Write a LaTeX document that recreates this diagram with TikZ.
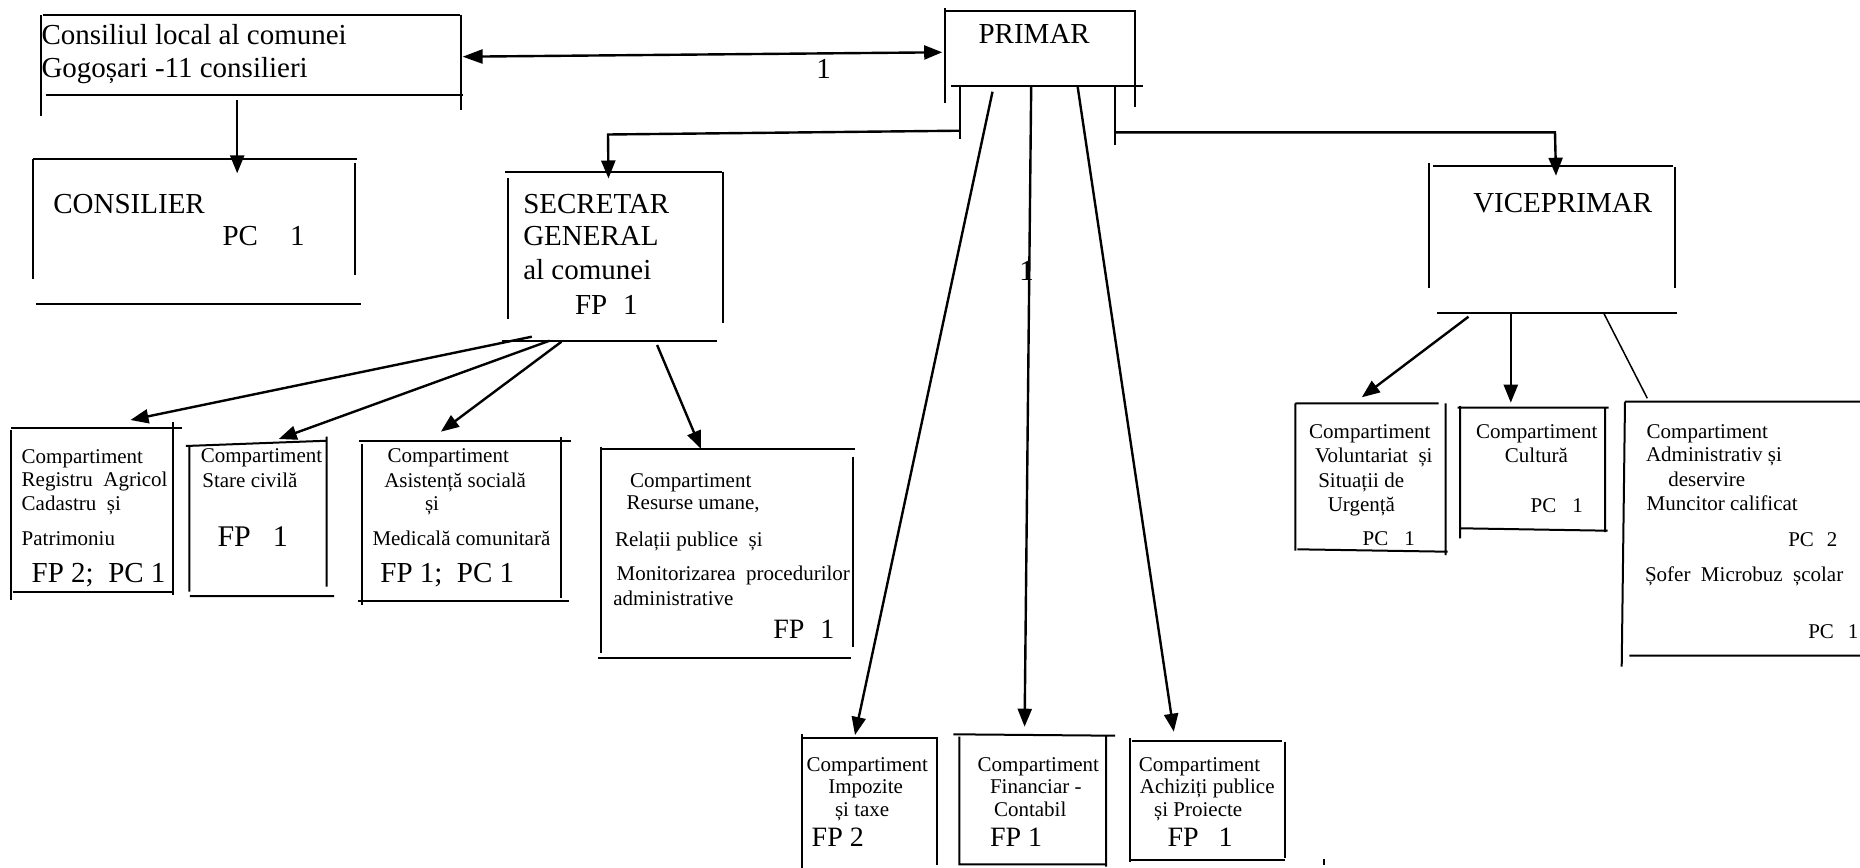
\documentclass[tikz,border=0pt]{standalone}
\usepackage{fontspec}
\setmainfont{Liberation Serif}
\usetikzlibrary{arrows.meta}
\begin{document}
\begin{tikzpicture}[x=0.5pt,y=-0.5pt,
  edge/.style={line width=1pt},
  conn/.style={line width=1.2pt},
  arr/.style={conn,-{Triangle[length=9pt,width=7pt]}},
  thinconn/.style={line width=0.75pt},
  big/.style={font=\fontsize{14.5}{17}\selectfont,inner sep=0pt,outer sep=0pt,anchor=base west},
  bigc/.style={font=\fontsize{14.5}{17}\selectfont,inner sep=0pt,outer sep=0pt,anchor=base},
  fpbig/.style={font=\fontsize{15}{18}\selectfont,inner sep=0pt,outer sep=0pt,anchor=base west},
  mid/.style={font=\fontsize{14}{17}\selectfont,inner sep=0pt,outer sep=0pt,anchor=base west},
  sm/.style={font=\fontsize{10.5}{12}\selectfont,inner sep=0pt,outer sep=0pt,anchor=base west}]
\path[use as bounding box] (0,0) rectangle (1860,868);

% ---------- box outlines (drawn as loose segments, as in the original) ----------
% Consiliul local
\draw[edge] (42.7,15)--(459.5,15) (40.7,15)--(40.7,116) (460.6,15)--(460.6,110) (45.5,95)--(462.6,95);
% CONSILIER
\draw[edge] (32.8,159.3)--(357,159.3) (32.8,159.3)--(32.8,279.3) (354.7,163.3)--(354.7,275.3) (35.6,304)--(361,304);
% PRIMAR
\draw[edge] (945,11)--(1136,11) (945,8.3)--(945,102.7) (1134.8,11)--(1134.8,106.7) (951.3,85.7)--(1142.7,85.7);
\draw[edge] (960,85.7)--(960,139.3) (1115.4,85.7)--(1115.4,145);
% SECRETAR GENERAL
\draw[edge] (505,171.7)--(721.7,171.7) (508.3,178.3)--(508.3,319.3) (723.3,171.7)--(723.3,323.3) (501.7,341)--(716.7,341);
% VICEPRIMAR
\draw[edge] (1433,165.7)--(1673,165.7) (1429,163.3)--(1429,288.3) (1675,166.7)--(1675,288.3) (1437,313.3)--(1677,313.3);
% Registru
\draw[edge] (11,427.7)--(181.7,427.7) (11,430)--(11,600) (172.7,421.7)--(172.7,595) (12.7,591.7)--(173.3,591.7);
% Stare civila
\draw[edge] (185.8,446)--(327.4,440.7) (189.3,445)--(189.3,591.7) (326.6,436.7)--(326.6,586.7) (189.8,596)--(334,596);
% Asistenta
\draw[edge] (359,440.7)--(570.6,440.7) (361.8,444)--(361.8,605) (560.7,436.7)--(560.7,598.3) (357.8,600.7)--(568.6,600.7);
% Resurse umane
\draw[edge] (601.7,449.3)--(855,449.3) (601,446.7)--(601,653.3) (853.3,456.7)--(853.3,646.7) (598.3,658.3)--(851,658.3);
% Impozite
\draw[edge] (801.7,738.3)--(938.3,738.3) (801.7,734.3)--(801.7,868) (936.7,738.3)--(936.7,865);
% Financiar
\draw[edge] (953.3,734.3)--(1115,735.7) (959.3,736.7)--(959.3,863.3) (1106,736.7)--(1106,866.7) (958.3,864.3)--(1105,864.3);
% Achizitii
\draw[edge] (1131.7,740.7)--(1281.6,740.7) (1130,738.3)--(1130,861.7) (1285.2,741.7)--(1285.2,858.3) (1130,860)--(1285,860);
\draw[edge] (1324,859)--(1324,865);
% Voluntariat
\draw[edge] (1295.4,403.3)--(1438.5,403.3) (1295.4,403.3)--(1295.4,550.7) (1445.6,403.3)--(1445.6,555) (1297.3,549.3)--(1447.6,551.7);
% Cultura
\draw[edge] (1457.5,407.7)--(1608.5,407.7) (1460.2,406)--(1460.2,538.3) (1605,407.7)--(1605,532) (1461.4,528.3)--(1607.7,530.7);
% Administrativ
\draw[edge] (1625,401.7)--(1860,401.7) (1625,401.7)--(1621.7,666.7) (1629.3,655.7)--(1860,655.7);

% ---------- texts ----------
\node[big] (cl1) at (41.5,44.3) {Consiliul local al comunei};
\node[big] (cl2) at (41.5,77.7) {Gogoșari -11 consilieri};
\node[big] (cs1) at (53.4,213) {CONSILIER};
\node[big] (cs2) at (222.6,245.7) {PC\hspace{16pt}1};
\node[big] (pr) at (978.6,43.3) {PRIMAR};
\node[bigc] (lab1) at (823.6,78.3) {1};
\node[bigc] (lab2) at (1026.5,280) {1};
\node[big] (sg1) at (523.3,213.3) {SECRETAR};
\node[big] (sg2) at (523.3,245) {GENERAL};
\node[big] (sg3) at (523.3,279.3) {al comunei};
\node[big] (sg4) at (575,314) {FP\hspace{8pt}1};
\node[big] (vp) at (1473.3,212.3) {VICEPRIMAR};

\node[sm] (rg1) at (21.7,463.3) {Compartiment};
\node[sm] (rg2) at (21.7,486.7) {Registru\ \ Agricol};
\node[sm] (rg3) at (21.7,510) {Cadastru\ \ și};
\node[sm] (rg4) at (21.7,545) {Patrimoniu};
\node[big] (rg5) at (31.7,582) {FP 2;\ \ PC 1};

\node[sm] (sc1) at (200.9,462.7) {Compartiment};
\node[sm] (sc2) at (202.4,487.3) {Stare civilă};
\node[fpbig] (sc3) at (217.5,546) {FP\hspace{11pt}1};

\node[sm] (as1) at (387.5,462.7) {Compartiment};
\node[sm] (as2) at (384.3,487.3) {Asistență socială};
\node[sm] (as3) at (425,510.7) {și};
\node[sm] (as4) at (372.5,545) {Medicală comunitară};
\node[big] (as5) at (380.4,582) {FP 1;\ \ PC 1};

\node[sm] (rs1) at (630,487.7) {Compartiment};
\node[sm] (rs2) at (626.7,509) {Resurse umane,};
\node[sm] (rs3) at (615,546) {Relații publice\ \ și};
\node[sm] (rs4) at (616.7,580) {Monitorizarea\ \ procedurilor};
\node[sm] (rs5) at (613.3,605) {administrative};
\node[mid] (rs6) at (773.3,638.3) {FP\hspace{8pt}1};

\node[sm] (im1) at (806.7,771.7) {Compartiment};
\node[sm] (im2) at (828.3,793.3) {Impozite};
\node[sm] (im3) at (835,816.7) {și taxe};
\node[mid] (im4) at (811.7,846.7) {FP 2};

\node[sm] (fi1) at (977.7,771.7) {Compartiment};
\node[sm] (fi2) at (990,793.3) {Financiar -};
\node[sm] (fi3) at (994,816.7) {Contabil};
\node[mid] (fi4) at (990,846.7) {FP 1};

\node[sm] (ac1) at (1138.8,771.7) {Compartiment};
\node[sm] (ac2) at (1139.9,793.3) {Achiziți publice};
\node[sm] (ac3) at (1154.2,816.7) {și Proiecte};
\node[mid] (ac4) at (1167.5,846.7) {FP\hspace{10pt}1};

\node[sm] (vo1) at (1309.2,438.3) {Compartiment};
\node[sm] (vo2) at (1315.1,462.7) {Voluntariat\ \ și};
\node[sm] (vo3) at (1318.3,487.3) {Situații de};
\node[sm] (vo4) at (1327.8,511.7) {Urgență};
\node[sm] (vo5) at (1362.6,545.7) {PC\hspace{8pt}1};

\node[sm] (cu1) at (1476,438.3) {Compartiment};
\node[sm] (cu2) at (1504.9,462.7) {Cultură};
\node[sm] (cu3) at (1530.6,512.7) {PC\hspace{8pt}1};

\node[sm] (ad1) at (1646.7,438.3) {Compartiment};
\node[sm] (ad2) at (1646,461.7) {Administrativ și};
\node[sm] (ad3) at (1668.3,486.7) {deservire};
\node[sm] (ad4) at (1646.7,510.7) {Muncitor calificat};
\node[sm] (ad5) at (1788.3,546.7) {PC\hspace{6.5pt}2};
\node[sm] (ad6) at (1645,581.7) {Șofer\ \ Microbuz\ \ școlar};
\node[sm] (ad7) at (1808.3,638.3) {PC\hspace{7pt}1};

% ---------- connector end points ----------
\coordinate (clR) at (462.6,56.7);
\coordinate (prL) at (942.2,52.3);
\coordinate (clB) at (237.2,100);
\coordinate (csT) at (237.2,173.3);
\coordinate (pL) at (960,130.7);
\coordinate (sgK) at (608,134.5);
\coordinate (sgT) at (608.5,178.5);
\coordinate (pR) at (1115.4,132.3);
\coordinate (vK) at (1555,132.3);
\coordinate (vT) at (1556,175.7);
\coordinate (p1) at (992.5,91.7);
\coordinate (imT) at (855,735);
\coordinate (p2) at (1031.2,85.7);
\coordinate (fiT) at (1024.6,726.7);
\coordinate (p3) at (1077.5,85.7);
\coordinate (acT) at (1173.8,731.7);
\coordinate (s1) at (531.8,336.7);
\coordinate (rgT) at (130.5,420);
\coordinate (s2) at (549.6,340.7);
\coordinate (scT) at (278.8,439);
\coordinate (s3) at (561.5,341.7);
\coordinate (asT) at (440.9,431.7);
\coordinate (s4) at (657.1,345);
\coordinate (rsT) at (701,449);
\coordinate (v1) at (1468.5,316.7);
\coordinate (voT) at (1361.8,397.3);
\coordinate (v2) at (1510.8,313.3);
\coordinate (cuT) at (1510.8,402.7);
\coordinate (v3) at (1603.8,313.3);
\coordinate (adT) at (1647.3,398.3);

% ---------- connectors ----------
\draw[conn,{Triangle[length=10pt,width=7pt]}-{Triangle[length=9pt,width=7pt]}] (clR) -- (prL);
\draw[arr] (clB) -- (csT);
\draw[arr] (pL) -- (sgK) -- (sgT);
\draw[arr] (pR) -- (vK) -- (vT);
\draw[arr] (p1) -- (imT);
\draw[arr] (p2) -- (fiT);
\draw[arr] (p3) -- (acT);
\draw[arr] (s1) -- (rgT);
\draw[arr] (s2) -- (scT);
\draw[arr] (s3) -- (asT);
\draw[arr] (s4) -- (rsT);
\draw[arr] (v1) -- (voT);
\draw[arr] (v2) -- (cuT);
\draw[thinconn] (v3) -- (adT);
\end{tikzpicture}
\end{document}
